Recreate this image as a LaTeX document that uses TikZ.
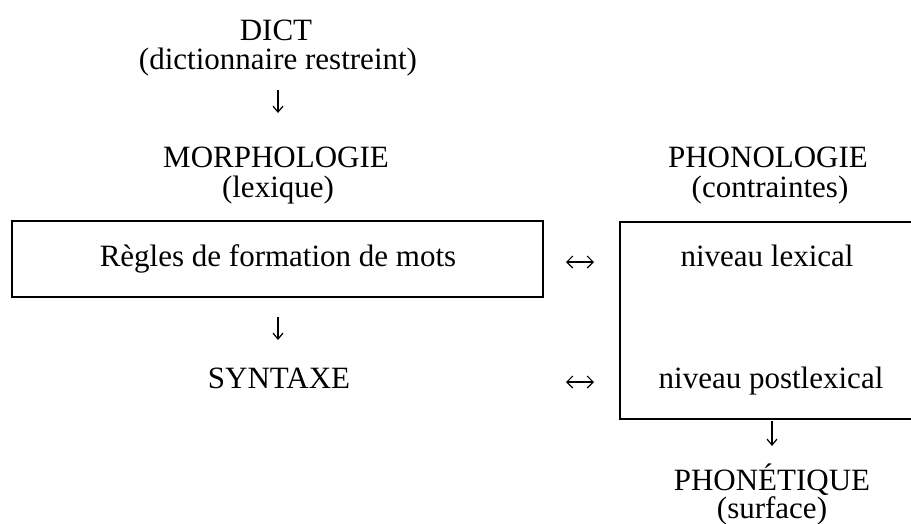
\documentclass[tikz,border=0pt]{standalone}
\usepackage{fontspec}
\usetikzlibrary{arrows.meta}
\setmainfont{Liberation Serif}
\begin{document}
\begin{tikzpicture}[x=1pt,y=-1pt,
  lbl/.style={inner sep=0pt, anchor=base, font=\fontsize{31}{31}\selectfont},
  frame/.style={draw, line width=2pt, inner sep=0pt},
  arr/.style={line width=1.2pt, -{Straight Barb[length=6pt, width=10pt, line width=1.2pt]}},
  darr/.style={line width=1.2pt, {Straight Barb[length=6pt, width=12pt, line width=1.2pt]}-{Straight Barb[length=6pt, width=12pt, line width=1.2pt]}}]
\clip (0,0) rectangle (911,523);

% left column
\node[lbl] (dict) at (276,40) {DICT};
\node[lbl] (dictsub) at (278,69) {(dictionnaire restreint)};
\node[lbl] (morph) at (276,167) {MORPHOLOGIE};
\node[lbl] (morphsub) at (278,197) {(lexique)};
\node[frame, minimum width=531pt, minimum height=76pt] (rulesbox) at (277.5,259) {};
\node[lbl] (rules) at (278,266) {Règles de formation de mots};
\node[lbl] (syntax) at (279,388) {SYNTAXE};

% right column
\node[lbl] (phon) at (768,167) {PHONOLOGIE};
\node[lbl] (phonsub) at (770,197) {(contraintes)};
\node[frame, minimum width=310pt, minimum height=197pt] (phonbox) at (775,320) {};
\node[lbl] (lexlevel) at (767,266) {niveau lexical};
\node[lbl] (postlevel) at (771,388) {niveau postlexical};
\node[lbl] (phonet) at (772,490) {PHONÉTIQUE};
\node[lbl] (phonetsub) at (772,518) {(surface)};

% arrow ends
\coordinate (d1a) at (278,90);  \coordinate (d1b) at (278,113);
\coordinate (d2a) at (278,317); \coordinate (d2b) at (278,340);
\coordinate (d3a) at (772,421); \coordinate (d3b) at (772,446);
\coordinate (l1a) at (566,262); \coordinate (l1b) at (594,262);
\coordinate (l2a) at (566,382); \coordinate (l2b) at (594,382);

\draw[arr] (d1a) -- (d1b);
\draw[arr] (d2a) -- (d2b);
\draw[arr] (d3a) -- (d3b);
\draw[darr] (l1a) -- (l1b);
\draw[darr] (l2a) -- (l2b);
\end{tikzpicture}
\end{document}
